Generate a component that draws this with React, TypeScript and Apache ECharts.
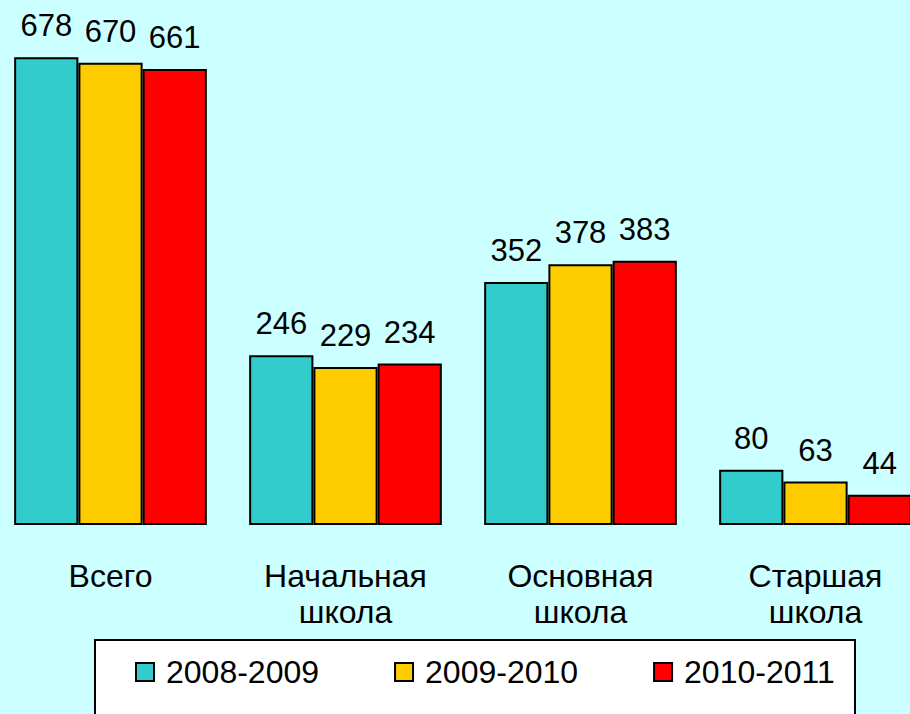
import React, { useEffect, useRef } from "react";
import * as echarts from "echarts";

const categories = ["Всего", "Начальная\nшкола", "Основная\nшкола", "Старшая\nшкола"];
const seriesNames = ["2008-2009", "2009-2010", "2010-2011"];
const values2008 = [678, 246, 352, 80];
const values2009 = [670, 229, 378, 63];
const values2010 = [661, 234, 383, 44];
const colors = ["#33CCCC", "#FFCC00", "#FF0000"];

export default function App() {
  const ref = useRef<HTMLDivElement>(null);
  useEffect(() => {
    if (!ref.current) return;
    const chart = echarts.init(ref.current, null, { renderer: "svg" });
    const font = "'Liberation Sans', Arial, sans-serif";
    const data = [values2008, values2009, values2010];
    chart.setOption({
      animation: false,
      backgroundColor: "#CCFFFF",
      textStyle: { fontFamily: font },
      grid: {
        left: -7,
        top: 42,
        width: 940,
        bottom: 189,
        containLabel: false,
        outerBoundsMode: "none",
      },
      graphic: [
        {
          type: "rect",
          shape: { x: 95, y: 640, width: 760, height: 120 },
          style: { fill: "#FFFFFF", stroke: "#000000", lineWidth: 2 },
          z: 0,
        },
      ],
      legend: {
        left: 135,
        top: 656,
        padding: 0,
        itemWidth: 18,
        itemHeight: 18,
        itemGap: 75,
        icon: "rect",
        textStyle: { fontSize: 32, color: "#000", fontFamily: font, padding: [0, 0, 0, 7] },
        data: seriesNames,
        z: 10,
      },
      xAxis: {
        type: "category",
        data: categories,
        axisLine: { show: false },
        axisTick: { show: false },
        axisLabel: {
          fontSize: 32,
          lineHeight: 36,
          color: "#000",
          margin: 33,
          fontFamily: font,
          interval: 0,
        },
      },
      yAxis: {
        type: "value",
        min: 0,
        max: 700,
        show: false,
        splitLine: { show: false },
      },
      series: seriesNames.map((name, i) => ({
        name,
        type: "bar",
        data: data[i],
        barGap: "0%",
        barCategoryGap: "18%",
        itemStyle: { color: colors[i], borderColor: "#000", borderWidth: 2 },
        label: {
          show: true,
          position: "top",
          distance: 16,
          fontSize: 31,
          color: "#000",
          fontFamily: font,
        },
      })),
    });
    return () => chart.dispose();
  }, []);
  return (
    <div
      ref={ref}
      style={{ position: "fixed", left: 0, top: 0, width: 910, height: 714 }}
    />
  );
}
